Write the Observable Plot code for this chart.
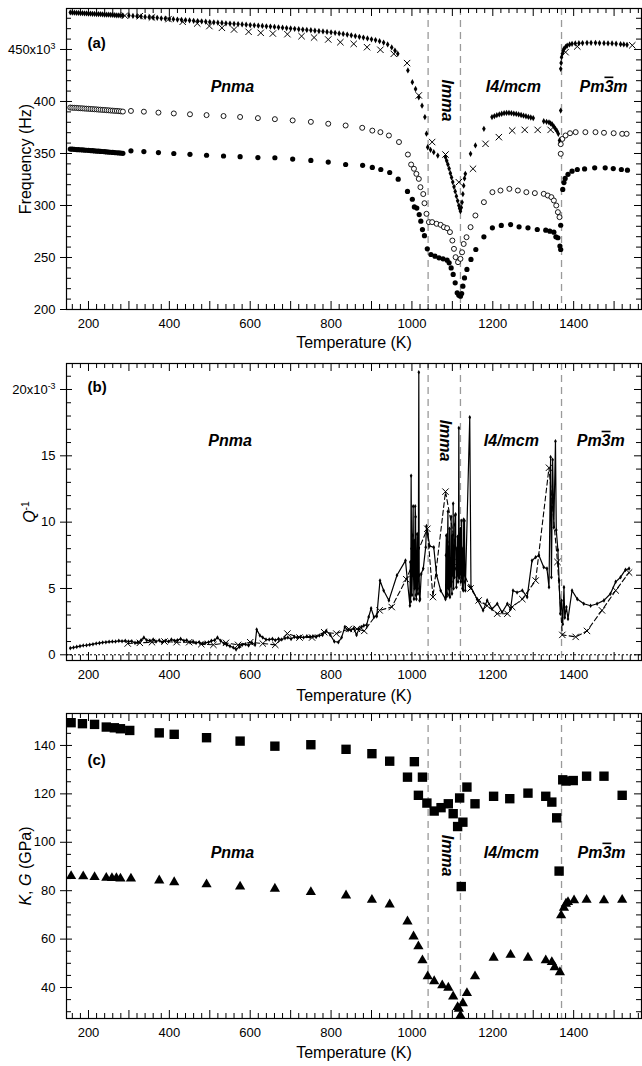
<!DOCTYPE html>
<html><head><meta charset="utf-8">
<script src="https://cdn.jsdelivr.net/npm/d3@7"></script>
<script src="https://cdn.jsdelivr.net/npm/@observablehq/plot@0.6"></script>
<style>
body{margin:0;background:#fff;}
#chart{width:642px;height:1066px;overflow:hidden;}
#chart svg{display:block;}
</style></head><body><div id="chart"></div>
<script>
// ---------------- DATA ----------------
const xTickLabels = [200, 400, 600, 800, 1000, 1200, 1400];
const transitions = [1040, 1120, 1370];
const phaseNames = ["Pnma", "Imma", "I4/mcm", "Pm3m"];

// Panel (a): resonance frequency (kHz) vs T
const freqDiamonds = [[155,485.6],[160,485.5],[165,485.4],[170,485.2],[175,485.1],[180,485.0],[185,484.9],[190,484.8],[195,484.7],[200,484.6],[205,484.4],[210,484.3],[215,484.2],[220,484.1],[225,484.0],[230,483.9],[235,483.8],[240,483.6],[245,483.5],[250,483.4],[255,483.3],[260,483.2],[265,483.0],[270,482.9],[275,482.8],[280,482.7],[285,482.6],
[300,482.6],[310,482.3],[320,482.0],[330,481.7],[340,481.3],[350,481.0],[360,480.7],[370,480.4],[380,480.0],[390,479.7],[400,479.4],[410,479.1],[420,478.8],[430,478.5],[440,478.2],[450,477.9],[460,477.6],[470,477.3],[480,477.0],[490,476.7],[500,476.4],[510,476.1],[520,475.8],[530,475.5],[540,475.2],[550,474.9],[560,474.7],[570,474.4],[580,474.1],[590,473.8],[600,473.5],[610,473.2],[620,472.9],[630,472.6],[640,472.3],[650,472.0],[660,471.7],[670,471.3],[680,471.0],[690,470.6],[700,470.2],[710,469.9],[720,469.5],[730,469.2],[740,468.8],[750,468.5],[760,468.1],[770,467.7],[780,467.3],[790,466.9],[800,466.5],[810,466.0],[820,465.4],[830,464.9],[840,464.3],[850,463.6],[860,462.9],[870,462.2],[880,461.4],[890,460.6],[900,459.8],[910,459.0],[920,458.0],[930,456.7],[940,454.8],[950,452.0],[958,449.0],[965,445.8],
[990,429.8],[1001,418.6],[1009,412],[1017,404],[1025,396],[1032,385],[1036,369],[1039,356],[1046,353.5],[1054,351.3],[1064,348],
[1083,346.5],[1086,343],[1089,339.5],[1092,335.5],[1095,331],[1098,327],[1101,322.5],[1104,318],[1107,313.5],[1110,309],[1113,304.5],[1116,300],[1118,297],[1120,294.5],[1122,298],[1124,303],[1126,311],[1128,319],[1130,326],[1132,330.4],
[1145,349.7],[1157,357.7],[1178,373.7],[1198,385],[1204,386],[1210,386.8],[1216,387.5],[1222,388.2],[1228,388.7],[1234,389],[1240,389],[1246,388.8],[1252,388.4],[1258,388],[1264,387.5],[1270,387],[1276,386.4],[1282,385.8],[1288,385.2],[1294,384.6],[1300,384],
[1326,381],[1333,380.5],[1339,380],[1343,379],[1347,377.9],[1351,376],[1355,373.7],[1359,371.5],[1362,368.9],[1365,362.5],[1368,391.3],
[1368,431.4],[1369,437],[1370,442.6],[1372,446],[1374,448.5],[1376,450.6],[1380,452.5],[1384,453.8],[1390,454.8],[1396,455.4],[1404,455.8],[1413,456],[1422,456.2],[1433,456.4],[1443,456.4],[1454,456.4],[1464,456.2],[1475,456],[1485,455.9],[1495,455.8],[1505,455.5],[1516,455.1],[1524,454.8],[1532,454.5]];

const freqCrosses = [[290,482.5],[327,482],[357,480.8],[398,479.2],[433,476.6],[469,475],[499,472.5],[530,470.8],[560,469.2],[596,467],[626,466],[656,465.3],[692,464.7],[727,462.8],[758,461.5],[793,459.6],[823,457],[856,455.4],[889,452.2],[922,449.7],[955,445.8],[988,436.9],[1017,405.8],[1050,361],[1083,349],[1116,322.4],[1151,335.3],[1182,359.3],[1215,365.7],[1248,372],[1279,372.7],[1311,372.7],[1343,372.7],[1380,447.4],[1409,452.9],[1545,454]];

const freqOpen = [[155,394.2],[160,394.0],[165,393.9],[170,393.8],[175,393.6],[180,393.5],[185,393.4],[190,393.2],[195,393.1],[200,393.0],[205,392.8],[210,392.7],[215,392.5],[220,392.4],[225,392.2],[230,392.1],[235,391.9],[240,391.8],[245,391.6],[250,391.5],[255,391.3],[260,391.2],[265,391.0],[270,390.9],[275,390.7],[280,390.5],[285,390.3],
[305,390.9],[337,390.2],[373,389.3],[411,388.5],[451,387.7],[492,386.9],[534,386.0],[575,385.1],[619,384.0],[661,383.0],[705,381.8],[750,380.4],[793,378.6],[836,376.9],[877,374.7],[902,372],[922,370.5],[943,367.3],[968,361],[990,349],[998,339.4],[1005,335.3],[1011,330.4],[1017,325.6],[1021,317.6],[1028,311],[1031,302.2],[1036,292],[1042,284],[1050,284],[1061,282.4],[1071,281.4],[1079,279.2],[1087,278.2],[1094,274.4],[1100,266.3],[1104,258.3],[1108,250.3],[1114,245.5],[1120,248.7],[1124,255],[1128,263],[1135,269.5],[1145,279.2],[1157,290.4],[1178,303.2],[1199,312.8],[1219,314.4],[1241,316],[1262,314.4],[1283,312.8],[1304,311.9],[1326,311.2],[1336,309.6],[1345,308],[1351,304.8],[1357,300],[1361,293.6],[1365,288.8],[1368,349.7],[1368,359],[1372,364],[1380,367.3],[1391,369.5],[1405,370.5],[1429,370.5],[1454,370.5],[1475,369.9],[1499,369.5],[1520,368.9],[1531,368.9]];

const freqFilled = [[155,354.2],[160,354.1],[165,354.0],[170,353.8],[175,353.7],[180,353.6],[185,353.4],[190,353.3],[195,353.1],[200,353.0],[205,352.8],[210,352.7],[215,352.5],[220,352.3],[225,352.2],[230,352.0],[235,351.9],[240,351.7],[245,351.5],[250,351.4],[255,351.2],[260,351.0],[265,350.9],[270,350.7],[275,350.5],[280,350.4],[285,350.2],
[305,352.6],[337,351.8],[373,350.9],[411,350],[451,349.2],[492,348.3],[534,347.6],[575,346.9],[619,346.1],[661,345.9],[705,344.6],[750,343.3],[793,341.7],[836,339.4],[878,338.6],[902,336.6],[923,334.6],[945,331.7],[966,325.3],[989,313.5],[1001,306],[1006,298.6],[1012,297.5],[1018,291.3],[1022,284.9],[1026,276.8],[1031,271],[1038,258.3],[1047,252.9],[1057,251.3],[1067,249.7],[1077,248.7],[1087,247.4],[1092,244.9],[1097,240],[1102,233.7],[1107,225.6],[1112,216],[1116,213.8],[1120,212.8],[1123,215.4],[1126,222.4],[1130,230.4],[1136,238.5],[1146,248.1],[1158,257.7],[1178,269.9],[1199,278.5],[1221,280.8],[1244,281.7],[1265,279.5],[1287,278.5],[1310,276.9],[1331,276.3],[1341,275.3],[1351,274.3],[1356,269.9],[1361,269],[1366,261],[1368,257.7],[1368,281],[1373,315.4],[1376,322],[1379,326],[1386,330],[1396,333],[1409,334.6],[1427,335.2],[1452,336.2],[1478,336.2],[1498,335.5],[1518,334.6],[1533,334]];

// Panel (b): internal friction Q^-1 (x10^-3)
const qSolid = [[155,0.5],[163,0.55],[171,0.6],[179,0.65],[187,0.7],[195,0.72],[203,0.76],[211,0.8],[219,0.85],[227,0.88],[235,0.93],[243,0.95],[251,0.98],[259,1.0],[267,1.0],[275,1.05],[283,1.02],[291,1.05],[299,1.0],[307,1.02],[315,0.9],[322,0.95],[330,1.1],[337,1.3],[344,1.1],[352,1.05],[360,1.15],[367,1.0],[375,1.1],[382,0.95],[390,1.05],[398,1.0],[405,1.15],[413,1.05],[420,1.1],[428,1.2],[436,1.05],[443,1.1],[451,0.95],[459,1.0],[466,0.9],[474,0.95],[482,0.85],[489,0.9],[497,0.95],[504,1.05],[512,1.1],[519,1.3],[527,1.05],[535,0.85],[542,0.75],[550,0.65],[558,0.55],[565,0.4],[573,0.6],[580,0.75],[588,0.8],[596,0.7],[604,0.9],[612,0.75],[616,1.9],[624,1.45],[631,1.3],[639,1.15],[647,1.15],[655,1.2],[662,1.1],[670,1.2],[678,1.15],[686,1.25],[693,1.3],[701,1.2],[709,1.35],[716,1.3],[724,1.35],[732,1.3],[740,1.4],[748,1.35],[755,1.4],[763,1.35],[771,1.45],[779,1.5],[788,1.8],[798,1.5],[808,1.0],[818,0.95],[826,1.3],[834,2.1],[842,1.85],[849,1.85],[856,2.0],[863,1.5],[869,1.95],[875,2.1],[881,2.2],[888,2.25],[893,2.85],[899,3.5],[906,2.85],[913,2.9],[921,5.6],[930,4.85],[943,4.1],[963,6.0],[984,7.1],
[995,3.7],[996,7.0],[997,4.0],[998,13.5],[999,8.0],[1000,4.5],[1001,6.0],[1002,9.0],[1003,11.2],[1004,6.0],[1005,4.2],[1006,8.6],[1007,5.0],[1008,11.2],[1009,10.4],[1010,4.5],[1011,4.2],[1012,7.0],[1013,9.1],[1014,5.0],[1015,4.6],[1016,8.0],[1017,21.3],[1018,6.0],[1019,4.1],[1020,4.2],
[1023,6.1],[1028,6.5],[1034,8.1],[1036,9.7],[1039,9.1],[1044,8.2],[1054,8.1],[1061,6.0],[1071,4.85],
[1083,4.2],[1084,7.5],[1085,9.0],[1086,4.4],[1087,4.6],[1088,8.5],[1089,10.8],[1090,5.0],[1091,8.1],[1092,4.5],[1093,9.5],[1094,4.35],[1095,7.0],[1096,5.2],[1097,10.4],[1098,5.5],[1099,4.6],[1100,9.0],[1101,6.0],[1102,11.4],[1103,5.0],[1104,8.2],[1105,5.85],[1106,9.8],[1107,10.5],[1108,10.6],[1109,6.5],[1110,5.1],[1111,8.0],[1112,6.0],[1113,8.9],[1114,5.5],[1115,7.0],[1116,17.1],[1117,5.8],[1118,6.1],[1119,8.5],[1120,9.5],[1121,5.5],[1122,6.6],[1123,10.1],[1124,6.0],[1125,5.0],[1126,8.0],[1127,4.85],[1128,10.2],[1129,6.0],[1130,10.1],[1131,5.5],[1132,4.85],
[1143,17.9],[1146,5.1],[1161,4.2],[1176,3.35],[1186,4.1],[1198,3.45],[1211,3.85],[1223,3.2],[1236,3.85],[1244,3.45],[1250,4.85],[1260,4.7],[1273,4.85],[1285,4.35],[1297,7.1],[1306,7.35],[1314,7.5],[1326,6.6],[1334,6.5],[1339,5.1],[1343,14.9],[1345,5.85],[1348,14.7],[1351,9.6],[1355,16.1],[1357,9.4],[1361,7.9],[1364,5.6],[1367,3.1],[1370,4.1],[1373,2.3],[1376,5.1],[1378,2.8],[1382,3.6],[1386,2.7],[1396,4.85],[1409,4.2],[1425,3.85],[1442,3.7],[1458,3.85],[1475,4.1],[1491,4.6],[1504,5.5],[1516,5.85],[1528,6.4],[1537,6.5]];

const qDashed = [[297,0.85],[327,0.9],[357,0.95],[388,1.0],[418,0.95],[449,0.95],[479,0.8],[509,0.75],[540,0.9],[570,0.75],[600,0.95],[631,0.85],[662,0.75],[692,1.6],[722,1.3],[753,1.3],[783,1.7],[813,1.6],[844,1.95],[864,1.95],[882,1.8],[920,3.35],[950,3.6],[986,5.7],[1038,9.5],[1052,4.35],[1083,12.3],[1115,7.0],[1145,5.0],[1165,4.1],[1186,3.7],[1211,3.1],[1236,3.1],[1248,3.6],[1273,4.2],[1306,5.6],[1339,14.1],[1360,7.0],[1372,1.5],[1405,1.35],[1433,1.8],[1470,3.35],[1504,4.85],[1537,6.2]];

// Panel (c): moduli (GPa)
const modK = [[157,149.4],[185,149],[215,148.7],[244,147.6],[264,147.3],[279,146.9],[302,146.2],[375,145.2],[412,144.6],[492,143.2],[575,141.8],[661,139.7],[750,140.3],[837,138.4],[901,136.6],[945,133.5],[989,126.9],[1006,133.3],[1016,119.4],[1026,126.9],[1037,116.2],[1055,112.9],[1072,114.3],[1090,115.9],[1102,111.8],[1113,106.5],[1118,118.3],[1122,81.7],[1126,108.3],[1136,122.8],[1156,115.9],[1202,119],[1242,118],[1287,120.3],[1331,119],[1346,116.6],[1358,110.1],[1364,88.1],[1373,125.8],[1381,125.3],[1399,125.5],[1432,127.3],[1475,127.3],[1520,119.4]];

const modG = [[157,86],[187,85.9],[215,85.6],[244,85.3],[258,85.2],[269,85.2],[279,85],[305,85],[375,84.2],[412,83.5],[492,82.6],[575,81.7],[661,80.8],[750,79.4],[837,78],[901,76.2],[945,74.3],[989,67.3],[1004,61.1],[1016,57],[1026,51.2],[1039,44.6],[1055,42.6],[1075,40.9],[1090,39.9],[1102,36.3],[1113,31.9],[1116,31.2],[1120,28.4],[1126,33.5],[1136,37.7],[1156,44.6],[1202,52.3],[1244,53.5],[1287,52.3],[1331,51.2],[1346,50.5],[1353,48.4],[1366,46.3],[1369,69.8],[1376,72.9],[1381,74.6],[1386,75.3],[1401,76],[1432,76.2],[1475,76],[1520,76.2]];

// ---------------- DRAWING ----------------
const W = 642, ML = 66, MR = 1;
const FONT = "Liberation Sans, Arial, Helvetica, sans-serif";
const X_DOMAIN = [145.6, 1567.8];
const innerW = W - ML - MR;
const xMajor = d3.range(200, 1600, 100);
const xMinor = d3.range(160, 1568, 20).filter(v => v % 100 !== 0);
const px = d => d[0], py = d => d[1];

function panel(cfg) {
  const innerH = cfg.height - cfg.marginTop - cfg.marginBottom;
  const phaseY = cfg.phaseY;
  const lbl = {fontSize: 16, fontWeight: "bold", fontStyle: "italic", fontFamily: FONT, textAnchor: "middle", lineAnchor: "middle"};
  const marks = [
    Plot.ruleX(transitions, {x: d => d, stroke: "#9a9a9a", strokeWidth: 1.3, strokeDasharray: "7,5"}),
    ...cfg.marks,
    Plot.text([phaseNames[0]], {x: cfg.phaseX[0], y: phaseY[0], text: d => d, ...lbl}),
    Plot.text([phaseNames[1]], {x: cfg.phaseX[1], y: phaseY[1], text: d => d, rotate: 90, ...lbl}),
    Plot.text([phaseNames[2]], {x: cfg.phaseX[2], y: phaseY[2], text: d => d, ...lbl}),
    Plot.text([phaseNames[3]], {x: cfg.phaseX[3], y: phaseY[3], text: d => d, ...lbl}),
    Plot.text([cfg.letter], {frameAnchor: "top-left", dx: 21, dy: cfg.letterDy, text: d => d, textAnchor: "start", lineAnchor: "middle", fontSize: 15, fontWeight: "bold", fontFamily: FONT}),
    Plot.frame({stroke: "#000", strokeWidth: 1.2}),
    Plot.tickX(xMinor, {x: d => d, insetTop: innerH - 5, stroke: "#000"}),
    Plot.tickX(xMajor, {x: d => d, insetTop: innerH - 8, stroke: "#000"}),
    Plot.tickX(xMinor, {x: d => d, insetBottom: innerH - 5, stroke: "#000"}),
    Plot.tickX(xMajor, {x: d => d, insetBottom: innerH - 8, stroke: "#000"}),
    Plot.tickY(cfg.yMinor, {y: d => d, insetRight: innerW - 5, stroke: "#000"}),
    Plot.tickY(cfg.yMajor, {y: d => d, insetRight: innerW - 6, insetLeft: -6, stroke: "#000"}),
    Plot.tickY(cfg.yMinor, {y: d => d, insetLeft: innerW - 5, stroke: "#000"}),
    Plot.tickY(cfg.yMajor, {y: d => d, insetLeft: innerW - 7, stroke: "#000"}),
    Plot.axisX({ticks: xTickLabels, tickSize: 0, tickPadding: 9, label: null, tickFormat: d => String(d), fontSize: 13, fontFamily: FONT}),
    Plot.axisY({ticks: cfg.yLabels, tickSize: 0, tickPadding: 11, label: null, tickFormat: cfg.yFormat, fontSize: 13, fontFamily: FONT}),
    Plot.text(["Temperature (K)"], {frameAnchor: "bottom", dy: cfg.xTitleDy, text: d => d, textAnchor: "middle", lineAnchor: "middle", fontSize: 16, fontFamily: FONT}),
    Plot.text([cfg.yTitle], {frameAnchor: "left", dx: cfg.yTitleDx, rotate: -90, text: d => d, textAnchor: "middle", lineAnchor: "middle", fontSize: 16, fontFamily: FONT})
  ];
  const svg = Plot.plot({
    width: W, height: cfg.height,
    marginLeft: ML, marginRight: MR, marginTop: cfg.marginTop, marginBottom: cfg.marginBottom,
    x: {domain: X_DOMAIN},
    y: {domain: cfg.yDomain},
    style: {fontFamily: FONT, fontSize: "13px", color: "#000", background: "#fff", overflow: "visible"},
    marks
  });
  d3.select(svg).selectAll("text").each(function () {
    const t = this.textContent;
    const el = d3.select(this);
    let m = t.match(/^(\d+)x10\^(-?\d+)$/);
    if (m) {
      el.text("");
      el.append("tspan").text(m[1] + "x10");
      el.append("tspan").attr("dy", "-0.55em").attr("font-size", "0.68em").text(m[2]);
    } else if (t === "Pm3m") {
      el.text("");
      el.append("tspan").text("Pm");
      el.append("tspan").style("text-decoration", "overline").text("3");
      el.append("tspan").text("m");
    } else if (t === "Q-1") {
      el.text("");
      el.append("tspan").attr("font-style", "italic").text("Q");
      el.append("tspan").attr("dy", "-0.55em").attr("font-size", "0.65em").text("-1");
    } else if (t === "K, G (GPa)") {
      el.text("");
      el.append("tspan").attr("font-style", "italic").text("K");
      el.append("tspan").text(", ");
      el.append("tspan").attr("font-style", "italic").text("G");
      el.append("tspan").text(" (GPa)");
    }
  });
  return svg;
}

const chart = document.getElementById("chart");

// Panel (a)
chart.appendChild(panel({
  height: 355, marginTop: 8, marginBottom: 46,
  yDomain: [200, 489.4],
  yMajor: [200, 250, 300, 350, 400, 450],
  yMinor: d3.range(210, 490, 10).filter(v => v % 50 !== 0),
  yLabels: [200, 250, 300, 350, 400, 450],
  yFormat: d => d === 450 ? "450x10^3" : String(d),
  letter: "(a)", letterDy: 35,
  phaseX: [556, 1088, 1251, 1474], phaseY: [414.5, 401, 414.5, 414.5],
  xTitleDy: 33, yTitle: "Frequency (Hz)", yTitleDx: -41,
  marks: [
    Plot.dot(freqFilled, {x: px, y: py, r: 2.6, fill: "#000", stroke: "none"}),
    Plot.dot(freqOpen, {x: px, y: py, r: 2.5, fill: "#fff", stroke: "#000", strokeWidth: 0.9}),
    Plot.dot(freqCrosses, {x: px, y: py, symbol: "times", r: 3, stroke: "#000", strokeWidth: 1}),
    Plot.dot(freqDiamonds, {x: px, y: py, symbol: "diamond", r: 1.9, fill: "#000", stroke: "none"})
  ]
}));

// Panel (b)
chart.appendChild(panel({
  height: 350, marginTop: 8, marginBottom: 45,
  yDomain: [-0.43, 21.96],
  yMajor: [0, 5, 10, 15, 20],
  yMinor: d3.range(1, 22, 1).filter(v => v % 5 !== 0),
  yLabels: [0, 5, 10, 15, 20],
  yFormat: d => d === 20 ? "20x10^-3" : String(d),
  letter: "(b)", letterDy: 24,
  phaseX: [550, 1083, 1246, 1467], phaseY: [16.15, 16.15, 16.15, 16.15],
  xTitleDy: 35, yTitle: "Q-1", yTitleDx: -37,
  marks: [
    Plot.ruleY([0], {y: d => d, stroke: "#000", strokeWidth: 1, strokeDasharray: "2,2"}),
    Plot.line(qDashed, {x: px, y: py, stroke: "#000", strokeWidth: 1.1, strokeDasharray: "5,3"}),
    Plot.dot(qDashed, {x: px, y: py, symbol: "times", r: 3, stroke: "#000", strokeWidth: 1}),
    Plot.line(qSolid, {x: px, y: py, stroke: "#000", strokeWidth: 1.2}),
    Plot.dot(qSolid, {x: px, y: py, symbol: "diamond", r: 1.4, fill: "#000", stroke: "none"})
  ]
}));

// Panel (c)
chart.appendChild(panel({
  height: 361, marginTop: 8, marginBottom: 48,
  yDomain: [27.2, 153.2],
  yMajor: [40, 60, 80, 100, 120, 140],
  yMinor: d3.range(30, 155, 5).filter(v => v % 20 !== 0),
  yLabels: [40, 60, 80, 100, 120, 140],
  yFormat: d => String(d),
  letter: "(c)", letterDy: 47,
  phaseX: [556, 1088, 1246, 1469], phaseY: [95.8, 94.5, 95.8, 95.8],
  xTitleDy: 34, yTitle: "K, G (GPa)", yTitleDx: -41,
  marks: [
    Plot.dot(modK, {x: px, y: py, symbol: "square", r: 5.3, fill: "#000", stroke: "none"}),
    Plot.dot(modG, {x: px, y: py, symbol: "triangle", r: 3.8, fill: "#000", stroke: "none"})
  ]
}));
</script>
</body></html>
